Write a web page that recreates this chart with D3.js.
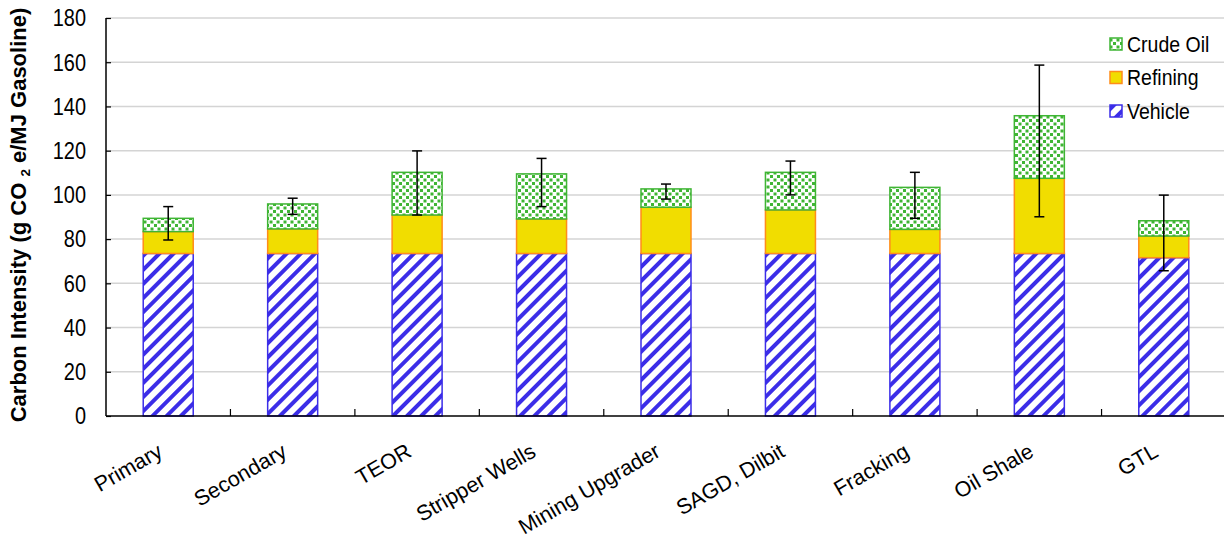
<!DOCTYPE html>
<html><head><meta charset="utf-8">
<script src="https://cdn.jsdelivr.net/npm/d3@7"></script>
<style>body{margin:0;background:#fff}svg{display:block}text{font-family:"Liberation Sans",Arial,sans-serif}</style>
</head><body>
<svg id="c" width="1224" height="538"></svg>
<script>
const categories = ["Primary","Secondary","TEOR","Stripper Wells","Mining Upgrader","SAGD, Dilbit","Fracking","Oil Shale","GTL"];
const vehicle  = [73.5, 73.5, 73.5, 73.5, 73.5, 73.5, 73.5, 73.5, 71.6];
const refining = [9.9, 11.1, 17.4, 15.6, 20.9, 19.7, 10.9, 34.0, 9.8];
const crude    = [6.0, 11.3, 19.3, 20.4, 8.3, 17.0, 19.0, 28.3, 6.9];
const errLow   = [79.6, 91.2, 90.9, 94.7, 98.1, 100.0, 89.4, 90.1, 65.7];
const errHigh  = [94.7, 98.5, 119.9, 116.5, 104.9, 115.3, 110.2, 158.7, 99.9];
const yTicks   = [0,20,40,60,80,100,120,140,160,180];
const seriesNames = ["Crude Oil","Refining","Vehicle"];

const svg = d3.select("#c");
const m = {l:106, t:18, r:1226, b:416};
const x = d3.scaleBand().domain(categories).range([m.l, m.r]).paddingInner(0).paddingOuter(0);
const y = d3.scaleLinear().domain([0,180]).range([m.b, m.t]);
const bw = 50;

const defs = svg.append("defs");
const pv = defs.append("pattern").attr("id","pVeh").attr("patternUnits","userSpaceOnUse")
  .attr("width",10).attr("height",10).attr("patternTransform","rotate(45)");
pv.append("rect").attr("width",10).attr("height",10).attr("fill","#fff");
pv.append("rect").attr("x",0).attr("width",4).attr("height",10).attr("fill","#3b2de8");
const pc = defs.append("pattern").attr("id","pCrude").attr("patternUnits","userSpaceOnUse")
  .attr("width",7).attr("height",7);
pc.append("rect").attr("width",7).attr("height",7).attr("fill","#fff");
pc.append("rect").attr("x",0).attr("y",0).attr("width",3).attr("height",3).attr("fill","#3fb534");
pc.append("rect").attr("x",3.5).attr("y",3.5).attr("width",3).attr("height",3).attr("fill","#3fb534");

// grid
svg.append("g").selectAll("line").data(yTicks.filter(d=>d>0)).join("line")
  .attr("x1",m.l).attr("x2",1224).attr("y1",d=>y(d)).attr("y2",d=>y(d))
  .attr("stroke","#d4d4d4").attr("stroke-width",1.5);

// bars
const stack = categories.map((c,i)=>({c, segs:[
  {k:"veh", y0:0, y1:vehicle[i]},
  {k:"ref", y0:vehicle[i], y1:vehicle[i]+refining[i]},
  {k:"cru", y0:vehicle[i]+refining[i], y1:vehicle[i]+refining[i]+crude[i]}]}));
const style = {veh:{fill:"url(#pVeh)", stroke:"#3b2de8"}, ref:{fill:"#f1dd00", stroke:"#ff8c1a"}, cru:{fill:"url(#pCrude)", stroke:"#3fb534"}};
const g = svg.append("g");
stack.forEach(s=>{
  const cx = x(s.c)+x.bandwidth()/2;
  g.selectAll(null).data(s.segs).join("rect")
    .attr("x",cx-bw/2).attr("width",bw)
    .attr("y",d=>y(d.y1)).attr("height",d=>y(d.y0)-y(d.y1))
    .attr("fill",d=>style[d.k].fill).attr("stroke",d=>style[d.k].stroke).attr("stroke-width",1.5);
});

// error bars
const eg = svg.append("g").attr("stroke","#000").attr("stroke-width",1.5);
categories.forEach((c,i)=>{
  const cx = x(c)+x.bandwidth()/2;
  eg.append("line").attr("x1",cx).attr("x2",cx).attr("y1",y(errLow[i])).attr("y2",y(errHigh[i]));
  eg.append("line").attr("x1",cx-5).attr("x2",cx+5).attr("y1",y(errLow[i])).attr("y2",y(errLow[i]));
  eg.append("line").attr("x1",cx-5).attr("x2",cx+5).attr("y1",y(errHigh[i])).attr("y2",y(errHigh[i]));
});

// y axis
const ya = svg.append("g").attr("transform",`translate(${m.l},0)`)
  .call(d3.axisRight(y).tickValues(yTicks).tickSize(5).tickFormat(""));
ya.select(".domain").attr("stroke","#000").attr("stroke-width",1.5).attr("d",`M0,${m.t}V${m.b}`);
ya.selectAll(".tick line").attr("stroke","#000").attr("stroke-width",1.2);
svg.append("g").selectAll("text").data(yTicks).join("text")
  .attr("transform",d=>`translate(${m.l-20},${y(d)}) scale(1.05,1.25)`)
  .attr("dy","0.35em").attr("text-anchor","end")
  .attr("font-size",19).text(d=>d);

// x axis
const bounds = categories.slice(1).map(c=>x(c));
svg.append("line").attr("x1",m.l).attr("x2",1224).attr("y1",m.b).attr("y2",m.b).attr("stroke","#000").attr("stroke-width",1.5);
svg.append("g").selectAll("line").data(bounds).join("line")
  .attr("x1",d=>d).attr("x2",d=>d).attr("y1",m.b).attr("y2",m.b-7).attr("stroke","#000").attr("stroke-width",1.2);
svg.append("g").selectAll("text").data(categories).join("text")
  .attr("transform",d=>`translate(${x(d)+x.bandwidth()/2-8},${m.b+33}) rotate(-30)`)
  .attr("text-anchor","end").attr("dy","0.35em").attr("font-size",21.5).text(d=>d);

// y title
const yt = svg.append("text").attr("transform",`translate(26,215) rotate(-90)`)
  .attr("text-anchor","middle").attr("font-size",22).attr("font-weight","bold");
yt.append("tspan").text("Carbon Intensity (g CO ");
yt.append("tspan").attr("font-size",13.5).attr("dy",4).text("2");
yt.append("tspan").attr("dy",-4).text(" e/MJ Gasoline)");

// legend
const lg = svg.append("g");
const lfill = ["url(#pCrude)","#f1dd00","url(#pVeh)"];
const lstroke = ["#3fb534","#ff8c1a","#3b2de8"];
seriesNames.forEach((n,i)=>{
  const ly = 44 + i*33.5;
  lg.append("rect").attr("x",1110).attr("y",ly-6).attr("width",12).attr("height",12)
    .attr("fill",lfill[i]).attr("stroke",lstroke[i]).attr("stroke-width",1.5);
  lg.append("text").attr("transform",`translate(1127,${ly}) scale(1,1.1)`).attr("dy","0.35em").attr("font-size",19.5).text(n);
});
</script>
</body></html>
